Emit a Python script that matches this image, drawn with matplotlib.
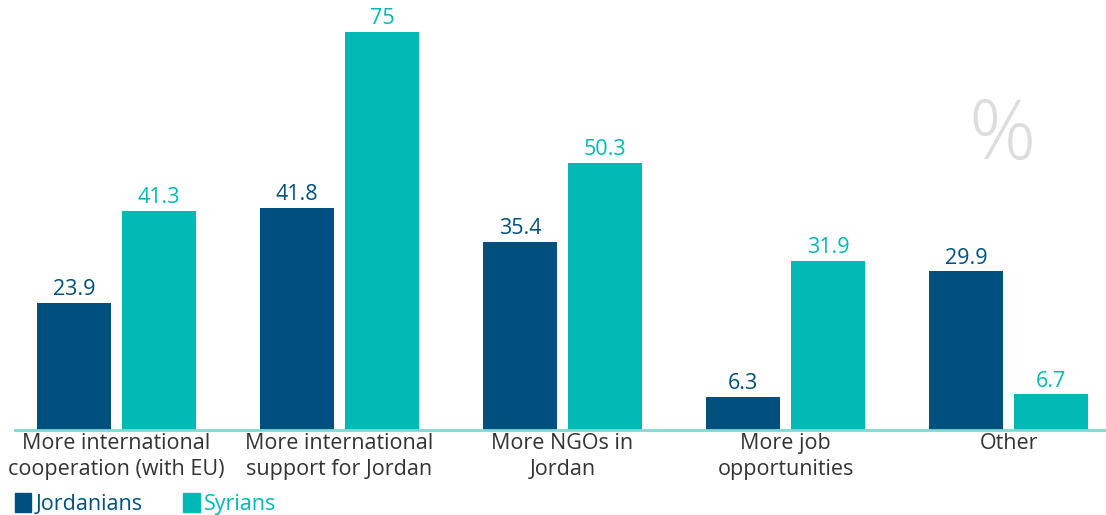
import matplotlib.pyplot as plt
from matplotlib.patches import Patch
import numpy as np

plt.rcParams['font.family'] = ['Open Sans', 'DejaVu Sans']

categories = ["More international\ncooperation (with EU)", "More international\nsupport for Jordan",
              "More NGOs in\nJordan", "More job\nopportunities", "Other"]
jordanians = [23.9, 41.8, 35.4, 6.3, 29.9]
syrians = [41.3, 75, 50.3, 31.9, 6.7]
value_labels_j = ["23.9", "41.8", "35.4", "6.3", "29.9"]
value_labels_s = ["41.3", "75", "50.3", "31.9", "6.7"]

dark = "#00507f"
teal = "#00b9b4"
axis_col = "#7fd8d4"
text_col = "#333333"

W, H = 1106, 515
fig = plt.figure(figsize=(W / 100, H / 100), dpi=100)
ax = fig.add_axes([15 / W, (H - 430) / H, 1091 / W, 425 / H])

x = np.arange(len(categories))
bw = 0.332
off = 0.19
b1 = ax.bar(x - off, jordanians, bw, color=dark, label="Jordanians")
b2 = ax.bar(x + off, syrians, bw, color=teal, label="Syrians")

for xi, v, s in zip(x, jordanians, value_labels_j):
    ax.text(xi - off, v + 0.5, s, ha='center', va='bottom', color=dark, fontsize=15.5)
for xi, v, s in zip(x, syrians, value_labels_s):
    ax.text(xi + off, v + 0.5, s, ha='center', va='bottom', color=teal, fontsize=15.5)

ax.set_xlim(-0.455, 4.437)
ax.set_ylim(0, 80)
ax.set_xticks(x)
ax.set_xticklabels(categories, fontsize=15.5, color=text_col, linespacing=1.3)
ax.tick_params(axis='x', length=0, pad=2)
ax.set_yticks([])
for side in ['top', 'right', 'left']:
    ax.spines[side].set_visible(False)
ax.spines['bottom'].set_color(axis_col)
ax.spines['bottom'].set_linewidth(2)

fig.text(1002 / W, 1 - 138 / H, "%", ha='center', va='center', fontsize=60,
         color="#dddddd", fontweight='light')

handles = [Patch(color=dark), Patch(color=teal)]
leg = fig.legend(handles, ["Jordanians", "Syrians"], loc='lower left',
                 bbox_to_anchor=(-0.004, -0.038), ncol=2, frameon=False,
                 fontsize=15.5, handlelength=0.75, handleheight=1.0,
                 handletextpad=0.2, columnspacing=1.9, labelcolor=[dark, teal])

fig.savefig("out.png", dpi=100)
